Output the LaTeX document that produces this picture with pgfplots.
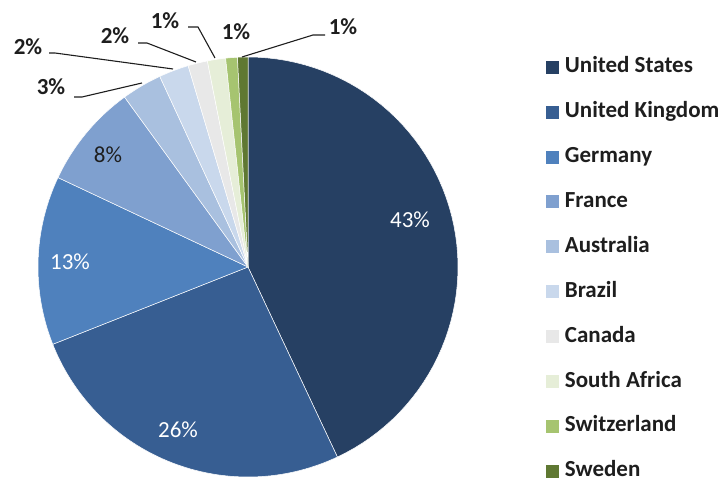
\documentclass[border=0pt]{standalone}
\usepackage{pgfplots}
\pgfplotsset{compat=1.18}
\usepackage{fontspec}
\setmainfont{Carlito}
\definecolor{cUS}{RGB}{38,64,99}
\definecolor{cUK}{RGB}{55,94,146}
\definecolor{cDE}{RGB}{79,129,189}
\definecolor{cFR}{RGB}{127,160,207}
\definecolor{cAU}{RGB}{169,192,223}
\definecolor{cBR}{RGB}{201,216,236}
\definecolor{cCA}{RGB}{232,232,232}
\definecolor{cZA}{RGB}{230,238,216}
\definecolor{cCH}{RGB}{166,196,112}
\definecolor{cSE}{RGB}{95,120,50}
\definecolor{txt}{RGB}{30,30,30}
\def\cum{0}
\newcommand\slice[3]{%
  \pgfmathsetmacro\sa{\cum}%
  \pgfmathsetmacro\sb{\cum+#1}%
  \edef\temp{\noexpand\addplot[fill=#2, draw=white, line width=0.5pt, domain=\sa:\sb, samples=60]
    ({248+210*sin(3.6*x)},{212+210*cos(3.6*x)}) -- (248,212) -- cycle;}%
  \temp
  \addlegendentry{#3}%
  \xdef\cum{\sb}%
}
\begin{document}
\fontsize{23}{27}\selectfont
\begin{tikzpicture}
\path[use as bounding box] (0,0) rectangle (723pt,479pt);
\begin{axis}[
  at={(0,0)}, anchor=south west,
  scale only axis, width=723pt, height=479pt,
  xmin=0, xmax=723, ymin=0, ymax=479,
  hide axis, clip=false,
  legend image code/.code={\fill[#1, draw=none] (0pt,-6.5pt) rectangle (13pt,6.5pt);},
  legend cell align=left,
  legend style={at={(axis cs:545.7,421.5)}, anchor=north west, draw=none, fill=none,
    font=\fontsize{23}{27}\selectfont\bfseries, text=txt,
    row sep=25.9pt, column sep=6pt, inner sep=0pt,
    nodes={text height=15pt, text depth=4pt, inner sep=0pt}},
]
\slice{43}{cUS}{United States}
\slice{26}{cUK}{United Kingdom}
\slice{13}{cDE}{Germany}
\slice{8}{cFR}{France}
\slice{3.1}{cAU}{Australia}
\slice{2.3}{cBR}{Brazil}
\slice{1.5}{cCA}{Canada}
\slice{1.4}{cZA}{South Africa}
\slice{0.9}{cCH}{Switzerland}
\slice{0.8}{cSE}{Sweden}
% leader lines
\addplot[forget plot, txt, line width=1.1pt] coordinates {(74,382) (82,382) (142,396)};
\addplot[forget plot, txt, line width=1.1pt] coordinates {(49,426) (55,426) (173,410)};
\addplot[forget plot, txt, line width=1.1pt] coordinates {(138,436) (147,436) (196,417)};
\addplot[forget plot, txt, line width=1.1pt] coordinates {(188,452) (198,452) (215,421)};
\addplot[forget plot, txt, line width=1.1pt] coordinates {(325,444) (313,444) (242,422)};
% labels
\node[text=white] at (axis cs:410,259) {43\%};
\node[text=white] at (axis cs:178,49) {26\%};
\node[text=white] at (axis cs:70,217) {13\%};
\node[text=txt] at (axis cs:108,324) {8\%};
\begin{scope}[every node/.style={text=txt, font=\bfseries}]
\node at (axis cs:51,392) {3\%};
\node at (axis cs:28,432) {2\%};
\node at (axis cs:115,443) {2\%};
\node at (axis cs:165,458) {1\%};
\node at (axis cs:236,447) {1\%};
\node at (axis cs:343,452) {1\%};
\end{scope}
\end{axis}
\end{tikzpicture}
\end{document}
